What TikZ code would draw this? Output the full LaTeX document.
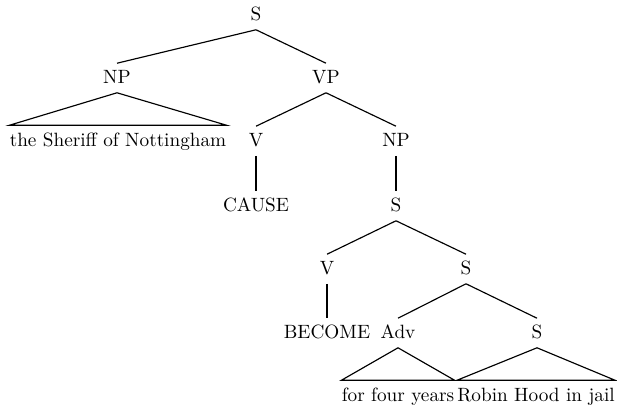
\documentclass[tikz,border=0pt]{standalone}
\usepackage{amsmath}

\tikzset{
  cat/.style={inner sep=3.5pt, text height=1.6ex, text depth=.25ex},
  leaf/.style={inner xsep=0pt, inner ysep=4pt, text height=1.6ex, text depth=.25ex},
  branch/.style={line width=0.6pt}
}

\begin{document}
\begin{tikzpicture}[x=0.52pt,y=-0.52pt]

\useasboundingbox (0,0) rectangle (617,408);

% Category labels
\node[cat] (s0)  at (256,15)  {S};
\node[cat] (np1) at (117,78)  {NP};
\node[cat] (vp)  at (326,78)  {VP};
\node[cat] (v1)  at (256,141) {V};
\node[cat] (np2) at (396,141) {NP};
\node[cat] (s1)  at (396,206) {S};
\node[cat] (v2)  at (327,269) {V};
\node[cat] (s2)  at (466,269) {S};
\node[cat] (adv) at (398,333) {Adv};
\node[cat] (s3)  at (537,333) {S};

% Words
\node[cat]  (cause)   at (256,206) {CAUSE};
\node[cat]  (become)  at (327,333) {BECOME};
\node[leaf] (sheriff) at (118,141) {the Sheriff of Nottingham};
\node[leaf] (years)   at (398,396) {for four years};
\node[leaf] (robin)   at (536,396) {Robin Hood in jail};

% Branches
\foreach \a/\b in {s0/np1, s0/vp, vp/v1, vp/np2, np2/s1, v1/cause,
                   s1/v2, s1/s2, v2/become, s2/adv, s2/s3} {
    \draw[branch] (\a.south) -- (\b.north);
}

% Triangles over unanalysed phrases
\foreach \a/\b in {np1/sheriff, adv/years, s3/robin} {
    \draw[branch] (\b.north west) -- (\a.south) -- (\b.north east) -- cycle;
}

\end{tikzpicture}
\end{document}
